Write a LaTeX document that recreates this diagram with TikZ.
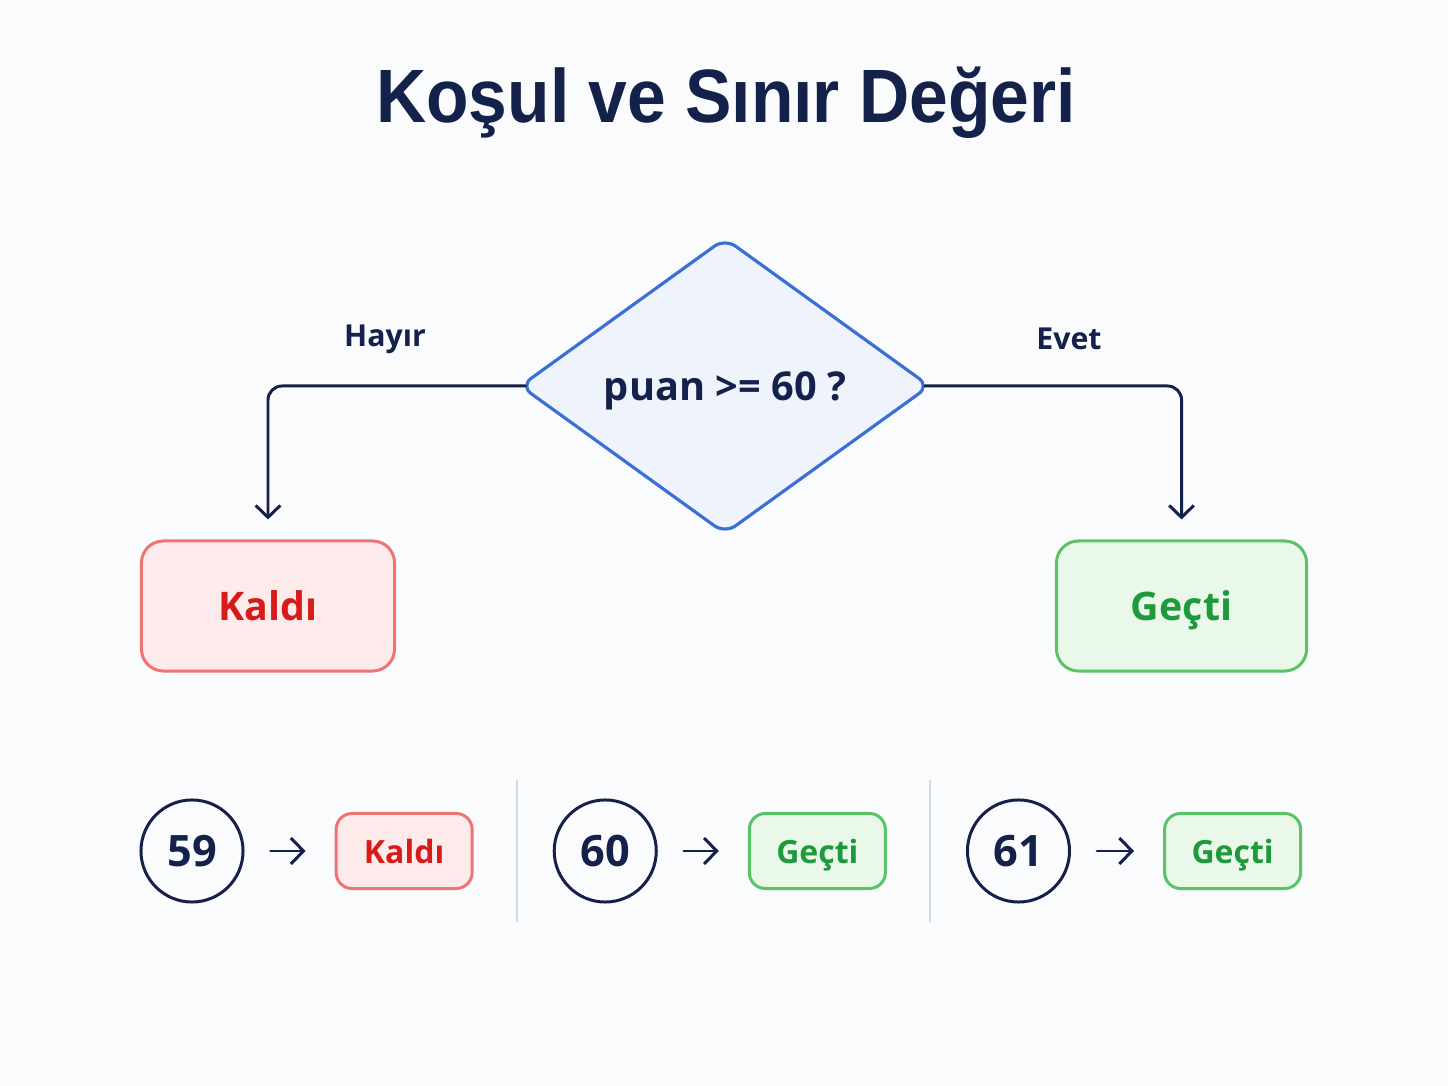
\documentclass[tikz,border=0pt]{standalone}
\usepackage{fontspec}
\setmainfont{Open Sans}
\newfontfamily\titlefont{Liberation Sans}
\usetikzlibrary{shapes.geometric,arrows.meta,positioning}
\definecolor{navy}{HTML}{14214A}
\definecolor{decblue}{HTML}{3A6FD6}
\definecolor{decfill}{HTML}{EEF3FC}
\definecolor{redline}{HTML}{EE7474}
\definecolor{redfill}{HTML}{FDEBEB}
\definecolor{redtext}{HTML}{D61B1B}
\definecolor{greenline}{HTML}{5CC266}
\definecolor{greenfill}{HTML}{EAF8EA}
\definecolor{greentext}{HTML}{1E9A3D}
\definecolor{divline}{HTML}{D3DAE4}
\definecolor{bgcol}{HTML}{FAFBFC}
\tikzstyle{decision} = [diamond, draw=decblue, fill=decfill, line width=0.9pt, minimum width=4.1cm, minimum height=2.96cm, inner sep=0pt, text depth=0pt, rounded corners=1.3mm, text=navy, font=\bfseries\fontsize{11.3}{13}\selectfont]
\tikzstyle{label} = [text=navy, font=\bfseries\fontsize{8.6}{10}\selectfont]
\tikzstyle{fail} = [draw=redline, fill=redfill, text=redtext, line width=0.85pt, rounded corners=2.2mm, minimum width=2.53cm, minimum height=1.3cm, text depth=0pt, font=\bfseries\fontsize{11.2}{13}\selectfont]
\tikzstyle{pass} = [draw=greenline, fill=greenfill, text=greentext, line width=0.85pt, rounded corners=2.2mm, minimum width=2.5cm, minimum height=1.3cm, text depth=0pt, font=\bfseries\fontsize{11.2}{13}\selectfont]
\tikzstyle{num} = [draw=navy, circle, line width=0.85pt, minimum size=1.02cm, inner sep=0pt, text=navy, font=\bfseries\fontsize{12.3}{14}\selectfont]
\tikzstyle{smallfail} = [fail, minimum width=1.36cm, minimum height=0.75cm, rounded corners=1.6mm, font=\bfseries\fontsize{9.1}{11}\selectfont]
\tikzstyle{smallpass} = [pass, minimum width=1.36cm, minimum height=0.75cm, rounded corners=1.6mm, font=\bfseries\fontsize{9.1}{11}\selectfont]
\tikzstyle{conn} = [draw=navy, line width=0.85pt, line cap=round, rounded corners=1.4mm, -{Straight Barb[length=3.4pt,width=7pt]}]
\tikzstyle{divider} = [draw=divline, line width=0.6pt]

\begin{document}
\begin{tikzpicture}[x=0.01cm, y=-0.01cm]
\fill [bgcol] (0,0) rectangle (1448,1086);
\useasboundingbox (0,0) rectangle (1448,1086);

\node [text=navy, xscale=0.92, transform shape, font=\titlefont\bfseries\fontsize{21.5}{26}\selectfont] (title) at (726,103) {Koşul ve Sınır Değeri};

\node [decision] (dec) at (725,386) {puan >= 60 ?};
\node [fail] (kaldi) at (268,606) {Kaldı};
\node [pass, right of=kaldi, node distance=9.13cm] (gecti) {Geçti};

\node [label] (hayir) at (385,339) {Hayır};
\node [label] (evet) at (1069,339) {Evet};

\draw [conn, shorten <=-0.7mm, shorten >=2mm] (dec.west) -| (kaldi.north);
\draw [conn, shorten <=-0.7mm, shorten >=2mm] (dec.east) -| (gecti.north);

\node [num] (n59) at (192,851) {59};
\node [smallfail, right of=n59, node distance=2.12cm] (r59) {Kaldı};
\node [num, right of=n59, node distance=4.13cm] (n60) {60};
\node [smallpass, right of=n60, node distance=2.12cm] (r60) {Geçti};
\node [num, right of=n60, node distance=4.13cm] (n61) {61};
\node [smallpass, right of=n61, node distance=2.14cm] (r61) {Geçti};

\draw [conn, shorten <=2.6mm, shorten >=2.9mm, -{Straight Barb[length=3.6pt,width=7.4pt]}] (n59) -- (r59);
\draw [conn, shorten <=2.6mm, shorten >=2.9mm, -{Straight Barb[length=3.6pt,width=7.4pt]}] (n60) -- (r60);
\draw [conn, shorten <=2.6mm, shorten >=2.9mm, -{Straight Barb[length=3.6pt,width=7.4pt]}] (n61) -- (r61);

\draw [divider] (517,780) -- (517,922);
\draw [divider] (930,780) -- (930,922);

\end{tikzpicture}
\end{document}
